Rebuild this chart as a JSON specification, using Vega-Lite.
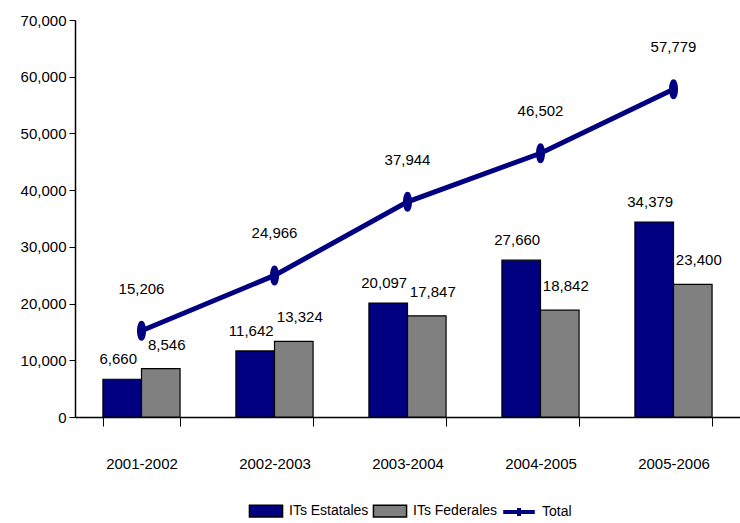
{
  "$schema": "https://vega.github.io/schema/vega-lite/v6.json",
  "width": 665,
  "height": 397,
  "autosize": "none",
  "padding": {"left": 75, "top": 20, "right": 0, "bottom": 106},
  "background": "white",
  "config": {
    "font": "Liberation Sans Narrow, Liberation Sans, Arial, sans-serif",
    "view": {"stroke": null},
    "axis": {"labelFont": "Liberation Sans Narrow, Liberation Sans, Arial, sans-serif", "labelFontSize": 15, "labelColor": "black", "domainColor": "black", "tickColor": "black", "grid": false, "title": null},
    "legend": {"labelFont": "Liberation Sans Narrow, Liberation Sans, Arial, sans-serif", "labelFontSize": 14, "labelColor": "black"}
  },
  "datasets": {
    "bars": [
      {"periodo": "2001-2002", "serie": "ITs Estatales", "valor": 6660},
      {"periodo": "2001-2002", "serie": "ITs Federales", "valor": 8546},
      {"periodo": "2002-2003", "serie": "ITs Estatales", "valor": 11642},
      {"periodo": "2002-2003", "serie": "ITs Federales", "valor": 13324},
      {"periodo": "2003-2004", "serie": "ITs Estatales", "valor": 20097},
      {"periodo": "2003-2004", "serie": "ITs Federales", "valor": 17847},
      {"periodo": "2004-2005", "serie": "ITs Estatales", "valor": 27660},
      {"periodo": "2004-2005", "serie": "ITs Federales", "valor": 18842},
      {"periodo": "2005-2006", "serie": "ITs Estatales", "valor": 34379},
      {"periodo": "2005-2006", "serie": "ITs Federales", "valor": 23400}
    ],
    "total": [
      {"periodo": "2001-2002", "serie": "Total", "valor": 15206},
      {"periodo": "2002-2003", "serie": "Total", "valor": 24966},
      {"periodo": "2003-2004", "serie": "Total", "valor": 37944},
      {"periodo": "2004-2005", "serie": "Total", "valor": 46502},
      {"periodo": "2005-2006", "serie": "Total", "valor": 57779}
    ]
  },
  "encoding": {
    "x": {"field": "periodo", "type": "nominal", "sort": null,
      "scale": {"paddingInner": 0.42, "paddingOuter": 0.21},
      "axis": {"labelAngle": 0, "tickBand": "extent", "labelPadding": 30, "tickSize": 9, "domainWidth": 1.5}},
    "y": {"field": "valor", "type": "quantitative",
      "scale": {"domain": [0, 70000], "nice": false},
      "axis": {"values": [0, 10000, 20000, 30000, 40000, 50000, 60000, 70000], "format": ",.0f", "tickSize": 6, "labelPadding": 3, "domainWidth": 1.5}}
  },
  "layer": [
    {
      "data": {"name": "bars"},
      "mark": {"type": "bar", "stroke": "black", "strokeWidth": 1.2},
      "encoding": {
        "xOffset": {"field": "serie", "type": "nominal", "scale": {"paddingInner": 0}},
        "fill": {"field": "serie", "type": "nominal",
          "scale": {"domain": ["ITs Estatales", "ITs Federales"], "range": ["#000080", "#808080"]},
          "legend": {"title": null, "orient": "none", "direction": "horizontal", "legendX": 178, "legendY": 478,
            "symbolType": "M-1.4,-0.5H1.4V0.5H-1.4Z", "symbolSize": 560, "symbolStrokeColor": "black", "symbolStrokeWidth": 1.5,
            "symbolOpacity": 1, "labelOffset": 10, "columnPadding": 1}}
      }
    },
    {
      "data": {"name": "bars"},
      "transform": [{"filter": "datum.serie === 'ITs Estatales'"}],
      "mark": {"type": "text", "baseline": "middle", "dy": -20, "dx": -4, "fontSize": 15, "color": "black"},
      "encoding": {
        "xOffset": {"field": "serie", "type": "nominal"},
        "text": {"field": "valor", "type": "quantitative", "format": ",.0f"}
      }
    },
    {
      "data": {"name": "bars"},
      "transform": [{"filter": "datum.serie === 'ITs Federales'"}],
      "mark": {"type": "text", "baseline": "middle", "dy": -24, "dx": 6, "fontSize": 15, "color": "black"},
      "encoding": {
        "xOffset": {"field": "serie", "type": "nominal"},
        "text": {"field": "valor", "type": "quantitative", "format": ",.0f"}
      }
    },
    {
      "data": {"name": "total"},
      "mark": {"type": "line", "strokeWidth": 5},
      "encoding": {
        "stroke": {"field": "serie", "type": "nominal",
          "scale": {"domain": ["Total"], "range": ["#000080"]},
          "legend": {"title": null, "orient": "none", "direction": "horizontal", "legendX": 426, "legendY": 474,
            "symbolType": "M-1,0H1M0,-0.25V0.25", "symbolSize": 1000, "symbolStrokeWidth": 4, "labelOffset": 5}}
      }
    },
    {
      "data": {"name": "total"},
      "mark": {"type": "point", "filled": true, "opacity": 1, "color": "#000080", "size": 400,
        "shape": "M0,-1C0.6,-1 0.6,1 0,1C-0.6,1 -0.6,-1 0,-1Z"},
      "encoding": {}
    },
    {
      "data": {"name": "total"},
      "mark": {"type": "text", "baseline": "middle", "dy": -42, "fontSize": 15, "color": "black"},
      "encoding": {
        "text": {"field": "valor", "type": "quantitative", "format": ",.0f"}
      }
    }
  ]
}
